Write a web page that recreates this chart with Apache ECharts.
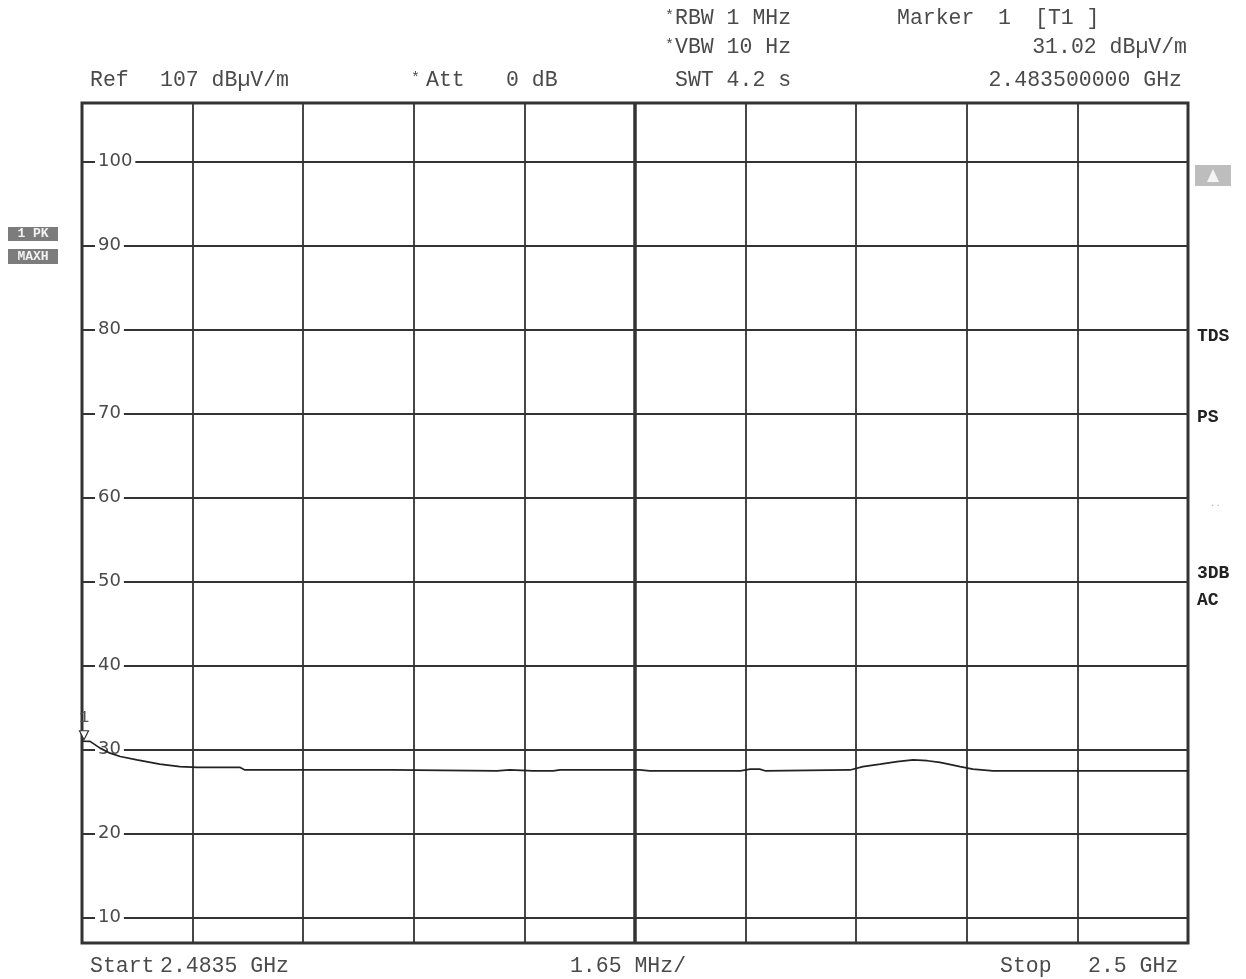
<!DOCTYPE html>
<html>
<head>
<meta charset="utf-8">
<script src="https://cdn.jsdelivr.net/npm/echarts@6/dist/echarts.min.js"></script>
<style>
html,body{margin:0;padding:0;background:#fff;}
#chart{width:1246px;height:979px;}
</style>
</head>
<body>
<div id="chart"></div>
<script>
// ---- data ----
const startMHz = 2483.5;          // Start 2.4835 GHz
const stopMHz = 2500.0;           // Stop 2.5 GHz
const mhzPerDiv = 1.65;           // 1.65 MHz/
const refLevel = 107;             // Ref 107 dBµV/m
const bottomLevel = 7;            // Ref - 100 dB (10 dB/div)
const yTickValues = [10, 20, 30, 40, 50, 60, 70, 80, 90, 100];

const traceFreqMHz = [
  2483.50, 2483.62, 2483.77, 2483.92, 2484.07, 2484.32, 2484.66, 2484.96, 2485.22,
  2485.86, 2485.93, 2486.75, 2488.10, 2489.69, 2489.88, 2490.23, 2490.53, 2490.63,
  2491.82, 2491.97, 2493.32, 2493.47, 2493.61, 2493.69, 2494.96, 2495.15, 2495.41,
  2495.66, 2495.90, 2496.11, 2496.30, 2496.60, 2496.79, 2497.09, 2500.00
];
const traceLevel = [
  31.02, 31.0, 30.2, 29.6, 29.2, 28.8, 28.3, 28.0, 27.9,
  27.9, 27.6, 27.6, 27.6, 27.5, 27.6, 27.5, 27.5, 27.6,
  27.6, 27.5, 27.5, 27.7, 27.7, 27.5, 27.6, 28.0, 28.3,
  28.6, 28.8, 28.7, 28.5, 28.0, 27.7, 27.5, 27.5
];
const markerFreqMHz = 2483.5;
const markerLevel = 31.02;

// ---- build ----
const traceData = traceFreqMHz.map((f, i) => [f - startMHz, traceLevel[i]]);
const span = stopMHz - startMHz;

const GRID = '#333';
const mono = '"Liberation Mono", "DejaVu Sans Mono", monospace';
const FS = 21.5;
const txt = (text, x, y, opts) => Object.assign({
  type: 'text', x: x, y: y, silent: true,
  style: Object.assign({
    text: text, fill: '#4a4a4a', fontFamily: mono, fontSize: FS,
    textAlign: 'left', textVerticalAlign: 'middle'
  }, opts || {})
});

const chart = echarts.init(document.getElementById('chart'), null, {renderer: 'canvas'});
chart.setOption({
  animation: false,
  backgroundColor: '#fff',
  grid: {
    left: 82, top: 103, width: 1106, height: 840,
    show: true, borderColor: '#333', borderWidth: 3, backgroundColor: 'transparent'
  },
  xAxis: {
    type: 'value', min: 0, max: span, interval: mhzPerDiv,
    axisLine: {show: false}, axisTick: {show: false}, axisLabel: {show: false},
    splitLine: {show: true, lineStyle: {color: GRID, width: 1.8}}
  },
  yAxis: {
    type: 'value', min: bottomLevel, max: refLevel,
    minInterval: 10, maxInterval: 10, splitNumber: 10,
    axisLine: {show: false}, axisTick: {show: false},
    axisLabel: {
      inside: true, margin: 13, showMinLabel: false, showMaxLabel: false,
      formatter: v => (yTickValues.indexOf(v) >= 0 ? String(v) : ''),
      fontFamily: '"DejaVu Sans", sans-serif', fontSize: 18, color: '#4a4a4a',
      backgroundColor: '#fff', padding: [0, 3, 0, 3]
    },
    splitLine: {show: true, lineStyle: {color: GRID, width: 1.8}}
  },
  series: [{
    type: 'line',
    data: traceData,
    showSymbol: false,
    lineStyle: {color: '#222', width: 1.7},
    z: 5,
    markLine: {
      silent: true, symbol: 'none', label: {show: false},
      lineStyle: {color: GRID, width: 3.5, type: 'solid'},
      data: [{xAxis: span / 2}]
    },
    markPoint: {
      silent: true,
      symbol: 'triangle', symbolRotate: 180, symbolSize: [9, 9], symbolOffset: [2, -6],
      itemStyle: {color: '#fff', borderColor: '#333', borderWidth: 1.2},
      label: {show: true, position: 'top', distance: 4, formatter: '1',
              color: '#555', fontFamily: mono, fontSize: 17},
      data: [{coord: [markerFreqMHz - startMHz, markerLevel]}]
    }
  }],
  graphic: [
    // header row 1
    txt('*', 665, 16, {fontSize: 15}),
    txt('RBW 1 MHz', 675, 18),
    txt('Marker', 897, 18),
    txt('1', 998, 18),
    txt('[T1 ]', 1035, 18),
    // header row 2
    txt('*', 665, 45, {fontSize: 15}),
    txt('VBW 10 Hz', 675, 47),
    txt('31.02 dB\u00b5V/m', 1187, 47, {textAlign: 'right'}),
    // header row 3
    txt('Ref', 90, 80),
    txt('107 dB\u00b5V/m', 160, 80),
    txt('*', 411, 78, {fontSize: 15}),
    txt('Att', 426, 80),
    txt('0 dB', 506, 80),
    txt('SWT 4.2 s', 675, 80),
    txt('2.483500000 GHz', 1182, 80, {textAlign: 'right'}),
    // bottom
    txt('Start', 90, 966),
    txt('2.4835 GHz', 160, 966),
    txt('1.65 MHz/', 628, 966, {textAlign: 'center'}),
    txt('Stop', 1000, 966),
    txt('2.5 GHz', 1088, 966),
    // left status boxes
    {type: 'rect', silent: true, shape: {x: 8, y: 227, width: 50, height: 14},
     style: {fill: '#7c7c7c'}},
    txt('1 PK', 33, 234, {textAlign: 'center', fill: '#f2f2f2', fontSize: 13, fontWeight: 'bold'}),
    {type: 'rect', silent: true, shape: {x: 8, y: 249, width: 50, height: 15},
     style: {fill: '#7c7c7c'}},
    txt('MAXH', 33, 257, {textAlign: 'center', fill: '#f2f2f2', fontSize: 13, fontWeight: 'bold'}),
    // right status area
    {type: 'rect', silent: true, shape: {x: 1195, y: 165, width: 36, height: 21},
     style: {fill: '#bdbdbd'}},
    {type: 'polygon', silent: true, shape: {points: [[1213, 169], [1207, 182], [1219, 182]]},
     style: {fill: '#f4f4f4'}},
    txt('TDS', 1197, 336, {fill: '#222', fontSize: 18, fontWeight: 'bold'}),
    txt('PS', 1197, 417, {fill: '#222', fontSize: 18, fontWeight: 'bold'}),
    txt('..', 1210, 504, {fill: '#aaa', fontSize: 9}),
    txt('3DB', 1197, 573, {fill: '#222', fontSize: 18, fontWeight: 'bold'}),
    txt('AC', 1197, 600, {fill: '#222', fontSize: 18, fontWeight: 'bold'})
  ]
});
</script>
</body>
</html>
